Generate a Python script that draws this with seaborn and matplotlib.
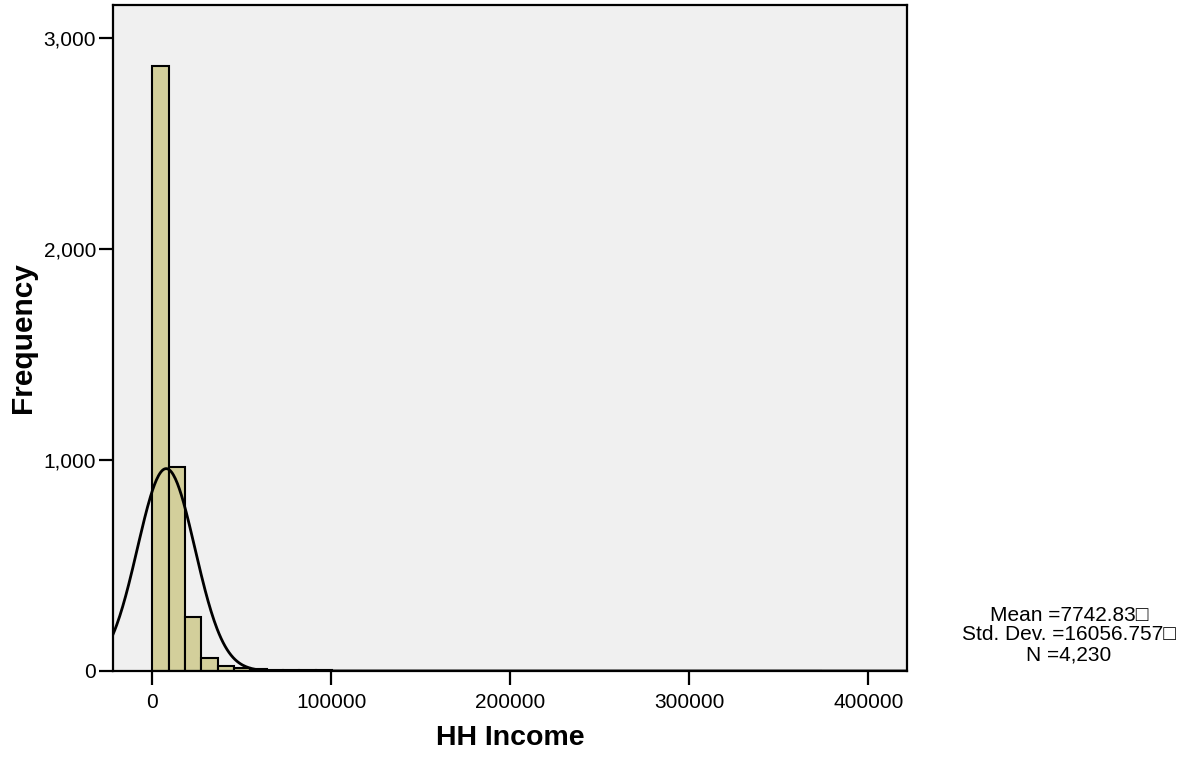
import numpy as np
import pandas as pd
import matplotlib
matplotlib.use("Agg")
import matplotlib.pyplot as plt
from matplotlib.ticker import FuncFormatter
import seaborn as sns

# =======================
# Data
# =======================
BIN_WIDTH = 9130
BIN_COUNTS = [2869, 966, 257, 63, 25, 14, 8, 5, 4, 3,
              6, 2, 1, 1, 0, 2, 2, 0, 0, 0,
              0, 0, 0, 0, 0, 0, 0, 1, 0, 0,
              0, 0, 0, 0, 0, 0, 0, 0, 0, 0,
              1]
MEAN = 7742.83
STD_DEV = 16056.757
N = 4230
X_TICKS = [0, 100000, 200000, 300000, 400000]
Y_TICKS = [0, 1000, 2000, 3000]

# =======================
# Style
# =======================
sns.set_style("white")
plt.rcParams['font.family'] = ['Liberation Sans', 'DejaVu Sans']
plt.rcParams['text.color'] = "black"
plt.rcParams['axes.labelcolor'] = "black"
plt.rcParams['xtick.color'] = "black"
plt.rcParams['ytick.color'] = "black"
BAR_COLOR = "#d3cf9b"
BG_COLOR = "#f0f0f0"

edges = [i * BIN_WIDTH for i in range(len(BIN_COUNTS) + 1)]
df = pd.DataFrame({
    "income": [e + BIN_WIDTH / 2 for e in edges[:-1]],
    "count": BIN_COUNTS,
})

fig = plt.figure(figsize=(11.88, 7.58), dpi=100)
ax = fig.add_axes([0.0949, 0.1148, 0.6686, 0.8786])
ax.set_facecolor(BG_COLOR)

sns.histplot(data=df, x="income", weights="count", bins=edges, ax=ax,
             color=BAR_COLOR, alpha=1.0, edgecolor="black", linewidth=1.5)

# normal curve scaled to counts
x_min, x_max = -22100, 421600
xs = np.linspace(x_min, x_max, 800)
ys = N * BIN_WIDTH / (STD_DEV * np.sqrt(2 * np.pi)) * np.exp(-0.5 * ((xs - MEAN) / STD_DEV) ** 2)
sns.lineplot(x=xs, y=ys, ax=ax, color="black", linewidth=2)

ax.set_xlim(x_min, x_max)
ax.set_ylim(0, 3158)
ax.set_xticks(X_TICKS)
ax.set_yticks(Y_TICKS)
ax.xaxis.set_major_formatter(FuncFormatter(lambda v, p: f"{int(v)}"))
ax.yaxis.set_major_formatter(FuncFormatter(lambda v, p: f"{int(v):,}"))
ax.tick_params(axis="both", direction="out", length=10, width=1.6,
               labelsize=15, bottom=True, left=True)
ax.tick_params(axis="x", pad=6)
ax.tick_params(axis="y", pad=2)

for s in ax.spines.values():
    s.set_visible(True)
    s.set_color("black")
    s.set_linewidth(1.6)

ax.set_xlabel("HH Income", fontsize=20.5, fontweight="bold", labelpad=9)
ax.set_ylabel("Frequency", fontsize=21.5, fontweight="bold", labelpad=5)

fig.text(1069 / 1188, 1 - 635 / 758,
         f"Mean ={MEAN}\u25a1\nStd. Dev. ={STD_DEV}\u25a1\nN ={N:,}",
         ha="center", va="center", fontsize=15, linespacing=1.04)

fig.savefig("out.png", dpi=100)
plt.close(fig)
